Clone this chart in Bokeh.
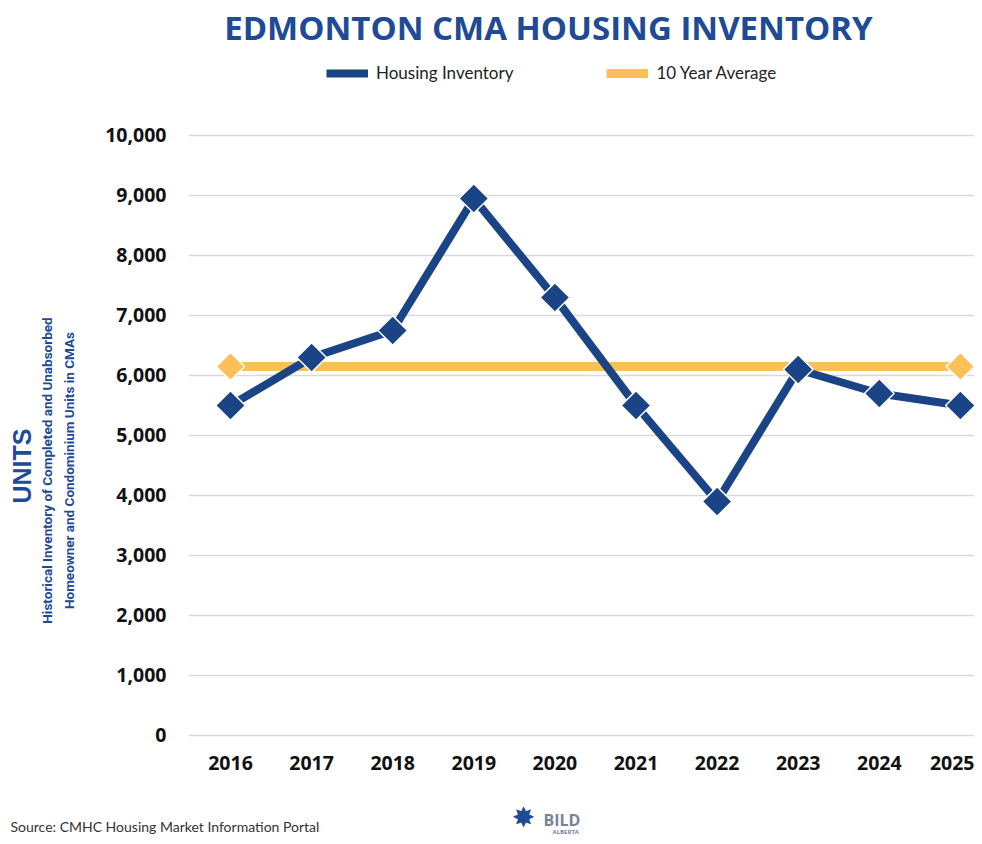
from bokeh.plotting import figure
from bokeh.layouts import column, row
from bokeh.models import (Range1d, Legend, LegendItem, Label, NumeralTickFormatter,
                          FixedTicker)
from bokeh.embed import file_html
from bokeh.resources import INLINE
import math

years = [2016, 2017, 2018, 2019, 2020, 2021, 2022, 2023, 2024, 2025]
inventory = [5500, 6300, 6750, 8950, 7300, 5500, 3900, 6100, 5700, 5500]
ten_year_avg = 6150
avg_line = [ten_year_avg] * len(years)
avg_marker_years = [years[0], years[-1]]
avg_marker_vals = [ten_year_avg, ten_year_avg]
y_ticks = [0, 1000, 2000, 3000, 4000, 5000, 6000, 7000, 8000, 9000, 10000]

title_text = "EDMONTON CMA HOUSING INVENTORY"
series_names = ["Housing Inventory", "10 Year Average"]
y_label_main = "UNITS"
y_label_sub = ["Historical Inventory of Completed and Unabsorbed",
               "Homeowner and Condominium Units in CMAs"]
source_text = "Source: CMHC Housing Market Information Portal"

BLUE = "#1B4486"
ORANGE = "#FDBF57"
TITLE_BLUE = "#1E4A96"

TOTAL_W, MAIN_H, FOOT_H, LEFT_W = 974, 792, 44, 88
FRAME_H = 745  # frames in a row are aligned with the main chart's frame


def blank_fig(w, h, frame_h):
    f = figure(width=w, height=h, output_backend="svg", toolbar_location=None,
               x_range=Range1d(0, w), y_range=Range1d(frame_h, 0),
               min_border_left=0, min_border_right=0, min_border_top=0,
               min_border_bottom=0)
    f.axis.visible = False
    f.grid.visible = False
    f.outline_line_color = None
    return f


# ---------------- main chart ----------------
p = figure(width=TOTAL_W - LEFT_W, height=MAIN_H, output_backend="svg",
           toolbar_location=None,
           x_range=Range1d(2015.482, 2025.174), y_range=Range1d(-167, 12250),
           min_border_left=100, min_border_right=0, min_border_top=0,
           min_border_bottom=MAIN_H - FRAME_H)
p.outline_line_color = None

p.xgrid.visible = False
p.ygrid.grid_line_color = "#D9D9D9"
p.ygrid.grid_line_width = 1.5
p.ygrid.ticker = FixedTicker(ticks=y_ticks)

p.yaxis.ticker = FixedTicker(ticks=y_ticks)
p.yaxis.formatter = NumeralTickFormatter(format="0,0")
p.xaxis.ticker = FixedTicker(ticks=years)
for ax in (p.xaxis, p.yaxis):
    ax.axis_line_color = None
    ax.major_tick_line_color = None
    ax.minor_tick_line_color = None
    ax.major_tick_out = 0
    ax.major_tick_in = 0
    ax.major_label_text_font = "Open Sans"
    ax.major_label_text_font_style = "bold"
    ax.major_label_text_font_size = "19.5px"
    ax.major_label_text_color = "#111111"
p.xaxis.major_label_standoff = 10
p.yaxis.major_label_standoff = 22

avg_r = p.line(years, avg_line, line_color=ORANGE, line_width=9)
p.scatter(avg_marker_years, avg_marker_vals, marker="square", angle=math.pi / 4,
          size=20, fill_color=ORANGE, line_color="white", line_width=1.5)

inv_r = p.line(years, inventory, line_color=BLUE, line_width=8)
p.scatter(years, inventory, marker="square", angle=math.pi / 4, size=21,
          fill_color=BLUE, line_color="white", line_width=1.5)

legend = Legend(items=[LegendItem(label=series_names[0], renderers=[inv_r]),
                       LegendItem(label=series_names[1], renderers=[avg_r])],
                orientation="horizontal", location=(138, 662),
                label_text_font="Lato", label_text_font_size="17px",
                label_text_color="#222222", glyph_width=42, glyph_height=18,
                spacing=93, padding=0, margin=0, border_line_color=None,
                background_fill_alpha=0, label_standoff=8)
p.add_layout(legend, "center")

# title inside the (taller) frame, positioned in data units above the grid
p.add_layout(Label(x=2019.92, y=11800, text=title_text, text_align="center",
                   text_baseline="middle", text_font="Open Sans",
                   text_font_style="bold", text_font_size="33px",
                   text_color=TITLE_BLUE))

# ---------------- left labels ----------------
left = blank_fig(LEFT_W, MAIN_H, FRAME_H)
left.add_layout(Label(x=21, y=503, text=y_label_main, angle=math.pi / 2,
                      text_align="left", text_baseline="middle",
                      text_font="Liberation Sans", text_font_style="bold",
                      text_font_size="25px", text_color=TITLE_BLUE))
left.add_layout(Label(x=46, y=470, text=y_label_sub[0], angle=math.pi / 2,
                      text_align="center", text_baseline="middle",
                      text_font="Roboto", text_font_style="bold",
                      text_font_size="13.5px", text_color=TITLE_BLUE))
left.add_layout(Label(x=68, y=470, text=y_label_sub[1], angle=math.pi / 2,
                      text_align="center", text_baseline="middle",
                      text_font="Roboto", text_font_style="bold",
                      text_font_size="13.5px", text_color=TITLE_BLUE))

# ---------------- footer ----------------
foot = blank_fig(TOTAL_W, FOOT_H, FOOT_H)
foot.add_layout(Label(x=10, y=34, text=source_text, text_align="left",
                      text_baseline="middle", text_font="Lato",
                      text_font_size="14px", text_color="#333333"))
foot.add_layout(Label(x=523, y=25, text="✸", text_align="center",
                      text_baseline="middle", text_font="DejaVu Sans",
                      text_font_size="28px", text_color=TITLE_BLUE))
foot.add_layout(Label(x=543, y=27, text="BILD", text_align="left",
                      text_baseline="middle", text_font="Open Sans",
                      text_font_style="bold", text_font_size="16px",
                      text_color="#76839A"))
foot.add_layout(Label(x=552, y=39, text="ALBERTA", text_align="left",
                      text_baseline="middle", text_font="Open Sans",
                      text_font_style="bold", text_font_size="6px",
                      text_color="#76839A"))

layout = column(row(left, p, spacing=0), foot, spacing=0)
open("out.html", "w").write(file_html(layout, INLINE))
